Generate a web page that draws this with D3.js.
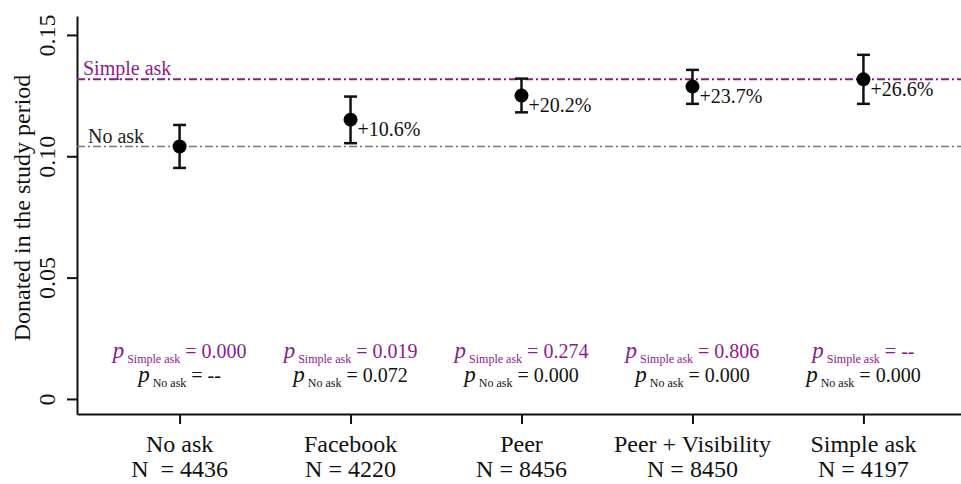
<!DOCTYPE html>
<html>
<head>
<meta charset="utf-8">
<script src="https://cdn.jsdelivr.net/npm/d3@7"></script>
<style>
  body { margin: 0; background: #fff; }
</style>
</head>
<body>
<div id="container"></div>
<script>
// data
const categories = ["No ask", "Facebook", "Peer", "Peer + Visibility", "Simple ask"];
const sampleLabels = ["N  = 4436", "N = 4220", "N = 8456", "N = 8450", "N = 4197"];
const means = [0.1040, 0.1151, 0.1250, 0.1287, 0.1317];
const ciLow = [0.0952, 0.1054, 0.1181, 0.1216, 0.1216];
const ciHigh = [0.1129, 0.1246, 0.1320, 0.1356, 0.1418];
const pctLabels = ["", "+10.6%", "+20.2%", "+23.7%", "+26.6%"];
const pSimpleAsk = ["0.000", "0.019", "0.274", "0.806", "--"];
const pNoAsk = ["--", "0.072", "0.000", "0.000", "0.000"];
const yTicks = [0, 0.05, 0.10, 0.15];
const yTickLabels = ["0", "0.05", "0.10", "0.15"];
const refLines = [
  { name: "Simple ask", value: 0.1317 },
  { name: "No ask", value: 0.1040 }
];

// layout
const width = 961, height = 484;
const purple = "#8b1c8b";
const ink = "#111";
const serif = '"Liberation Serif", "Times New Roman", Times';

const x = d3.scaleLinear().domain([0.4, 5.6]).range([77, 966]);
const y = d3.scaleLinear().domain([-0.0062, 0.1578]).range([414, 16]);

const svg = d3.select("#container").append("svg")
  .attr("width", width)
  .attr("height", height)
  .style("font-family", serif);

// y axis
const yAxis = svg.append("g")
  .attr("transform", "translate(77,0)")
  .call(d3.axisLeft(y).tickValues(yTicks).tickSize(10).tickSizeOuter(0)
    .tickFormat((d, i) => yTickLabels[i]))
  .attr("font-family", null).attr("font-size", null);
yAxis.select(".domain").attr("stroke", ink).attr("stroke-width", 2);
yAxis.selectAll(".tick line").attr("stroke", ink).attr("stroke-width", 2);
yAxis.selectAll(".tick text")
  .attr("x", null).attr("dy", null)
  .attr("transform", "translate(-22,0) rotate(-90)")
  .attr("text-anchor", "middle")
  .attr("fill", ink)
  .style("font-family", serif)
  .style("font-size", "24px");

svg.append("text")
  .attr("transform", "translate(30,208) rotate(-90)")
  .attr("text-anchor", "middle")
  .attr("fill", ink)
  .style("font-family", serif)
  .style("font-size", "24px")
  .text("Donated in the study period");

// x axis
const xAxis = svg.append("g")
  .attr("transform", "translate(0,414)")
  .call(d3.axisBottom(x).tickValues([1, 2, 3, 4, 5]).tickSize(10).tickSizeOuter(0)
    .tickFormat(""))
  .attr("font-family", null).attr("font-size", null);
xAxis.select(".domain").attr("stroke", ink).attr("stroke-width", 2);
xAxis.selectAll(".tick line").attr("stroke", ink).attr("stroke-width", 2);

const catLabels = svg.append("g").selectAll("text")
  .data(categories)
  .join("text")
  .attr("text-anchor", "middle")
  .attr("fill", ink)
  .attr("xml:space", "preserve")
  .style("font-family", serif)
  .style("font-size", "24px")
  .style("white-space", "pre");
catLabels.append("tspan")
  .attr("x", (d, i) => x(i + 1)).attr("y", 452)
  .text(d => d);
catLabels.append("tspan")
  .attr("x", (d, i) => x(i + 1)).attr("y", 477)
  .text((d, i) => sampleLabels[i]);

// reference lines
const refColors = [purple, "#777"];
const refTextColors = [purple, "#222"];
const refLabelX = [83, 88];
refLines.forEach((r, i) => {
  svg.append("line")
    .attr("x1", 77).attr("x2", width)
    .attr("y1", y(r.value)).attr("y2", y(r.value))
    .attr("stroke", refColors[i])
    .attr("stroke-width", i === 0 ? 2 : 1.6)
    .attr("stroke-dasharray", "8,3,2,3");
  svg.append("text")
    .attr("x", refLabelX[i])
    .attr("y", y(r.value) - 4)
    .attr("fill", refTextColors[i])
    .style("font-family", serif)
    .style("font-size", "20px")
    .text(r.name);
});

// error bars and points
const marks = svg.append("g").selectAll("g")
  .data(means)
  .join("g");
marks.append("line")
  .attr("x1", (d, i) => x(i + 1)).attr("x2", (d, i) => x(i + 1))
  .attr("y1", (d, i) => y(ciLow[i])).attr("y2", (d, i) => y(ciHigh[i]))
  .attr("stroke", ink).attr("stroke-width", 2.5);
marks.append("line")
  .attr("x1", (d, i) => x(i + 1) - 6.5).attr("x2", (d, i) => x(i + 1) + 6.5)
  .attr("y1", (d, i) => y(ciLow[i])).attr("y2", (d, i) => y(ciLow[i]))
  .attr("stroke", ink).attr("stroke-width", 2.5);
marks.append("line")
  .attr("x1", (d, i) => x(i + 1) - 6.5).attr("x2", (d, i) => x(i + 1) + 6.5)
  .attr("y1", (d, i) => y(ciHigh[i])).attr("y2", (d, i) => y(ciHigh[i]))
  .attr("stroke", ink).attr("stroke-width", 2.5);
marks.append("circle")
  .attr("cx", (d, i) => x(i + 1))
  .attr("cy", d => y(d))
  .attr("r", 7)
  .attr("fill", "#000");
marks.append("text")
  .attr("x", (d, i) => x(i + 1) + 7)
  .attr("y", d => y(d) + 16.5)
  .attr("fill", ink)
  .style("font-family", serif)
  .style("font-size", "20px")
  .text((d, i) => pctLabels[i]);

// p-values
function pLine(sel, sub, val, color, yPos) {
  const t = sel.append("text")
    .attr("x", (d, i) => x(i + 1))
    .attr("y", yPos)
    .attr("text-anchor", "middle")
    .attr("fill", color)
    .style("font-family", serif);
  t.append("tspan").style("font-size", "23px").style("font-style", "italic").text("p");
  t.append("tspan").style("font-size", "12px").attr("dy", 5).text(" " + sub);
  t.append("tspan").style("font-size", "20px").attr("dy", -5).text((d, i) => " = " + val[i]);
}
const pg = svg.append("g").selectAll("g")
  .data(categories)
  .join("g");
pLine(pg, "Simple ask", pSimpleAsk, purple, 358);
pLine(pg, "No ask", pNoAsk, ink, 382);
</script>
</body>
</html>
